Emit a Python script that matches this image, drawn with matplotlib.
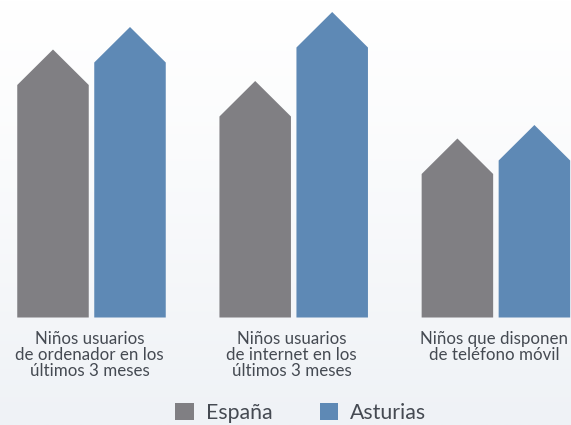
import matplotlib
matplotlib.use("Agg")
import matplotlib.pyplot as plt
import numpy as np
from matplotlib.patches import Polygon, Patch

categories = ["Niños usuarios\nde ordenador en los\núltimos 3 meses",
              "Niños usuarios\nde internet en los\núltimos 3 meses",
              "Niños que disponen\nde teléfono móvil"]
series_names = ["España", "Asturias"]
espana = [232.5, 201, 143.5]
asturias = [255, 270, 157]
colors = ["#807f83", "#5e89b5"]

W, H = 571, 425
fig = plt.figure(figsize=(W / 100, H / 100), dpi=100)
ax = fig.add_axes([0, 0, 1, 1])
base = 317.5
ax.set_xlim(0, W)
ax.set_ylim(base - H, base)
ax.axis("off")

# background gradient
grad = np.linspace(0, 1, 256).reshape(-1, 1)
c_top = np.array([1.0, 1.0, 1.0])
c_bot = np.array([0xef, 0xf2, 0xf6]) / 255
img = c_top + (c_bot - c_top) * grad[..., None] ** 1.2
ax.imshow(img, extent=[0, W, base - H, base], aspect="auto", zorder=0, origin="upper")

group_w = 202.2
first = 91.5
off = 38.5
bw = 71.5
half = bw / 2
roof = 35.5

for i, cat in enumerate(categories):
    gc = first + i * group_w
    for j, vals in enumerate([espana, asturias]):
        cx = gc + (off if j else -off)
        v = vals[i]
        pts = [(cx - half, 0), (cx - half, v), (cx, v + roof), (cx + half, v), (cx + half, 0)]
        ax.add_patch(Polygon(pts, closed=True, facecolor=colors[j], edgecolor="none", zorder=2))
    ax.text(gc - 2, base - 331, cat, ha="center", va="top", fontsize=12.2,
            family="Lato", fontweight="normal", color="#454a52", linespacing=1.0, zorder=3)

handles = [Patch(facecolor=colors[k], edgecolor="none", label=series_names[k]) for k in range(2)]
leg = fig.legend(handles=handles, loc="center", bbox_to_anchor=(301 / W, 1 - 413 / H), ncol=2,
                 frameon=False, prop={"family": "Lato", "weight": "normal", "size": 15.3},
                 handlelength=0.85, handleheight=0.85, handletextpad=0.6, columnspacing=2.2,
                 borderaxespad=0, borderpad=0)
for t in leg.get_texts():
    t.set_color("#454a52")

fig.savefig("out.png", dpi=100)
